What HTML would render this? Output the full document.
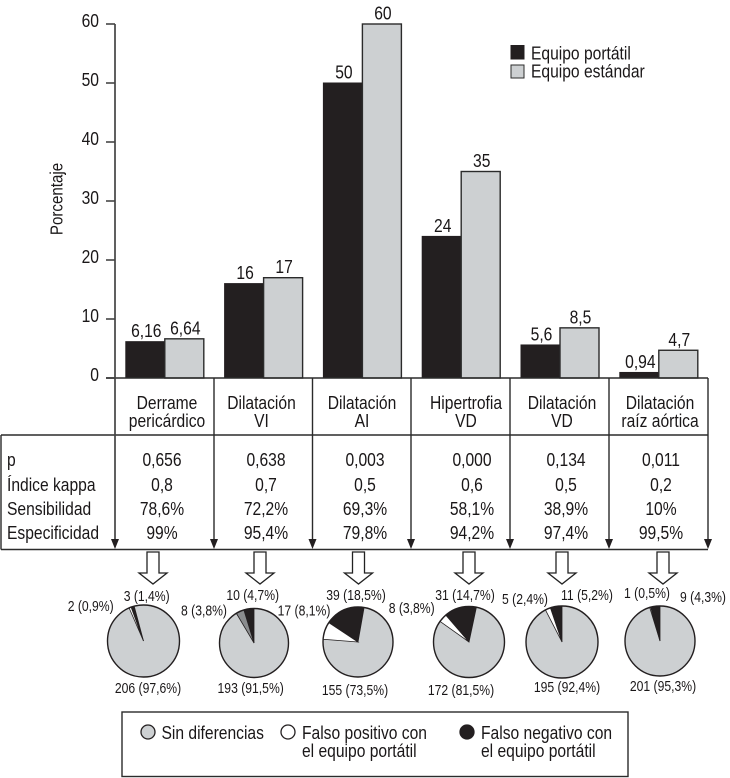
<!DOCTYPE html>
<html lang="es">
<head>
<meta charset="utf-8">
<title>Porcentaje por hallazgo ecocardiográfico</title>
<style>
html,body{margin:0;padding:0;background:#fff;width:730px;height:778px;overflow:hidden}
svg{display:block}
text{font-family:"Liberation Sans",sans-serif;font-size:18.5px;fill:#1a1718;text-anchor:middle}
text:not(.raw){transform-box:fill-box;transform-origin:50% 50%;transform:scaleX(.845)}
text.l{text-anchor:start;transform-origin:0 50%}
text.e{text-anchor:end;transform-origin:100% 50%}
text.s{font-size:14.5px}
text.s:not(.raw){transform:scaleX(.84)}
.ln{stroke:#2b2b2b;stroke-width:1.4;fill:none}
.ar{fill:#fff;stroke:#222;stroke-width:1.3}
.head{fill:#231f20;stroke:none}
</style>
</head>
<body>
<svg id="chart" xmlns="http://www.w3.org/2000/svg" width="730" height="778" viewBox="0 0 730 778">
  <text class="raw" style="font-size:18px" transform="translate(62.5,199) rotate(-90) scale(.84,1)">Porcentaje</text>

  <g id="ticks"></g>
  <g id="bars"></g>

  <g>
    <path class="ln" d="M106 378H708M1 435H708M1 435V549.5M1 549.5H708"/>
    <path class="ln" d="M115 24V545" style="stroke-width:1.7;stroke:#444"/>
    <path class="ln" d="M214 378V545M312.5 378V545M411 378V545M510 378V545M609 378V545M708 378V545"/>
    <g>
      <polygon class="head" points="111,539 119,539 115,549"/>
      <polygon class="head" points="210,539 218,539 214,549"/>
      <polygon class="head" points="308.5,539 316.5,539 312.5,549"/>
      <polygon class="head" points="407,539 415,539 411,549"/>
      <polygon class="head" points="506,539 514,539 510,549"/>
      <polygon class="head" points="605,539 613,539 609,549"/>
      <polygon class="head" points="704,539 712,539 708,549"/>
    </g>
  </g>

  <g id="headers"></g>

  <g>
    <g>
      <text class="l" x="7" y="466">p</text>
      <text class="l" x="7" y="491">Índice kappa</text>
      <text class="l" x="7" y="515">Sensibilidad</text>
      <text class="l" x="7" y="539">Especificidad</text>
    </g>
    <g>
      <text x="162" y="466">0,656</text>
      <text x="162" y="491">0,8</text>
      <text x="162" y="515">78,6%</text>
      <text x="162" y="539">99%</text>
    </g>
    <g>
      <text x="266" y="466">0,638</text>
      <text x="266" y="491">0,7</text>
      <text x="266" y="515">72,2%</text>
      <text x="266" y="539">95,4%</text>
    </g>
    <g>
      <text x="365" y="466">0,003</text>
      <text x="365" y="491">0,5</text>
      <text x="365" y="515">69,3%</text>
      <text x="365" y="539">79,8%</text>
    </g>
    <g>
      <text x="472" y="466">0,000</text>
      <text x="472" y="491">0,6</text>
      <text x="472" y="515">58,1%</text>
      <text x="472" y="539">94,2%</text>
    </g>
    <g>
      <text x="566" y="466">0,134</text>
      <text x="566" y="491">0,5</text>
      <text x="566" y="515">38,9%</text>
      <text x="566" y="539">97,4%</text>
    </g>
    <g>
      <text x="661" y="466">0,011</text>
      <text x="661" y="491">0,2</text>
      <text x="661" y="515">10%</text>
      <text x="661" y="539">99,5%</text>
    </g>
  </g>

  <g>
    <polygon class="ar" transform="translate(153,552)" points="-6,0 6,0 6,21 14,21 0,32 -14,21 -6,21"/>
    <polygon class="ar" transform="translate(260,552)" points="-6,0 6,0 6,21 14,21 0,32 -14,21 -6,21"/>
    <polygon class="ar" transform="translate(358.5,552)" points="-6,0 6,0 6,21 14,21 0,32 -14,21 -6,21"/>
    <polygon class="ar" transform="translate(469,552)" points="-6,0 6,0 6,21 14,21 0,32 -14,21 -6,21"/>
    <polygon class="ar" transform="translate(562,552)" points="-6,0 6,0 6,21 14,21 0,32 -14,21 -6,21"/>
    <polygon class="ar" transform="translate(663,552)" points="-6,0 6,0 6,21 14,21 0,32 -14,21 -6,21"/>
  </g>

  <g id="pies"></g>

  <g>
    <g>
      <rect x="511" y="45.5" width="13" height="13.5" fill="#231f20" stroke="#231f20"/>
      <text class="l" x="531" y="59.5">Equipo portátil</text>
    </g>
    <g>
      <rect x="511" y="65" width="13" height="13" fill="#cdd0d2" stroke="#2b2b2b"/>
      <text class="l" x="531" y="77.5">Equipo estándar</text>
    </g>
  </g>

  <g>
    <rect class="ln" x="122" y="712" width="506" height="64.5"/>
    <g>
      <circle cx="148" cy="732" r="7" fill="#cdd0d2" stroke="#231f20" stroke-width="1.3"/>
      <text class="l" x="161.5" y="739">Sin diferencias</text>
    </g>
    <g>
      <circle cx="288" cy="732" r="7" fill="#fff" stroke="#231f20" stroke-width="1.3"/>
      <text class="l" x="302" y="739">Falso positivo con</text>
      <text class="l" x="302" y="757">el equipo portátil</text>
    </g>
    <g>
      <circle cx="467" cy="732" r="7" fill="#231f20" stroke="#231f20" stroke-width="1.3"/>
      <text class="l" x="481" y="739">Falso negativo con</text>
      <text class="l" x="481" y="757">el equipo portátil</text>
    </g>
  </g>
</svg>

<script>
// ---------- chart data ----------
const categoryLine1 = ["Derrame", "Dilatación", "Dilatación", "Hipertrofia", "Dilatación", "Dilatación"];
const categoryLine2 = ["pericárdico", "VI", "AI", "VD", "VD", "raíz aórtica"];
const portableValues = [6.16, 16, 50, 24, 5.6, 0.94];
const standardValues = [6.64, 17, 60, 35, 8.5, 4.7];
const portableLabels = ["6,16", "16", "50", "24", "5,6", "0,94"];
const standardLabels = ["6,64", "17", "60", "35", "8,5", "4,7"];
const yTickValues = [0, 10, 20, 30, 40, 50, 60];
const yTickLabels = ["0", "10", "20", "30", "40", "50", "60"];

const pieAgreeCounts = [206, 193, 155, 172, 195, 201];
const pieNegativeCounts = [3, 10, 39, 31, 11, 9];
const piePositiveCounts = [2, 8, 17, 8, 5, 1];
const pieAgreeLabels = ["97,6", "91,5", "73,5", "81,5", "92,4", "95,3"];
const pieNegativeLabels = ["1,4", "4,7", "18,5", "14,7", "5,2", "4,3"];
const piePositiveLabels = ["0,9", "3,8", "8,1", "3,8", "2,4", "0,5"];

// ---------- layout (not data) ----------
const layoutPieCx = [143.5, 254, 358, 469, 562, 660];
const layoutPieCy = [641, 643, 642, 642, 642, 641];
const layoutPieR = [36, 34.5, 35, 35.5, 36, 35];
const layoutPieRotation = [-15, 0, 10, 12, 0, 0];
const layoutPosFill = ["#fff", "#8a8c8e", "#fff", "#fff", "#fff", "#fff"];
const layoutNegLabelX = [146.7, 252.7, 356, 465, 587, 703];
const layoutNegLabelY = [601, 600, 600, 600, 600, 602];
const layoutPosLabelX = [90.7, 204, 304, 411.7, 525, 647];
const layoutPosLabelY = [611, 615.7, 615.7, 613, 604, 598];
const layoutAgreeLabelX = [148, 250.7, 355, 461, 567, 663];
const layoutAgreeLabelY = [693, 693, 695, 695, 692, 691];
const layoutHeaderX = [167, 261.5, 362, 466, 562, 660];

const NS = "http://www.w3.org/2000/svg";
const yScale = v => 378 - v * 5.9;
const groupX = i => 115 + 98.8 * i + 10.8;
const barW = 39;

function mk(tag, parent, attrs, txt) {
  const el = document.createElementNS(NS, tag);
  for (const k in attrs) el.setAttribute(k, attrs[k]);
  if (txt !== undefined) el.textContent = txt;
  parent.appendChild(el);
  return el;
}

// y-axis ticks
const ticksG = document.getElementById("ticks");
yTickValues.forEach((v, i) => {
  const tick = mk("line", ticksG, {x1: 106, x2: 115, y1: yScale(v), y2: yScale(v), class: "ln"});
  
  
  const lab = mk("text", ticksG, {x: 99, y: yScale(v) + 3, class: "e"}, yTickLabels[i]);
  
  
});

// bars
const barsG = document.getElementById("bars");
portableValues.forEach((v, i) => {
  const x = groupX(i);
  const a = mk("rect", barsG, {x: x, y: yScale(v), width: barW, height: yScale(0) - yScale(v), fill: "#231f20", stroke: "#231f20", "stroke-width": 1});
  
  
  const w = standardValues[i];
  const b = mk("rect", barsG, {x: x + barW, y: yScale(w), width: barW, height: yScale(0) - yScale(w), fill: "#cdd0d2", stroke: "#2b2b2b", "stroke-width": 1.4});
  
  
  const la = mk("text", barsG, {x: x + barW / 2 + 1, y: yScale(v) - 4.5}, portableLabels[i]);
  
  
  const lb = mk("text", barsG, {x: x + barW * 1.5 + 1, y: yScale(w) - 4.5}, standardLabels[i]);
  
  
});

// category headers
const headersG = document.getElementById("headers");
categoryLine1.forEach((c, i) => {
  const t1 = mk("text", headersG, {x: layoutHeaderX[i], y: 409}, c);
  
  
  const t2 = mk("text", headersG, {x: layoutHeaderX[i], y: 427}, categoryLine2[i]);
  
  
});

// pies
const piesG = document.getElementById("pies");
function pt(cx, cy, r, deg) {
  const a = deg * Math.PI / 180;
  return [cx + r * Math.sin(a), cy - r * Math.cos(a)];
}
function wedge(cx, cy, r, from, to) {
  // sweeps counter-clockwise from "from" to "to" (degrees clockwise from 12 o'clock)
  const p0 = pt(cx, cy, r, from), p1 = pt(cx, cy, r, to);
  const large = Math.abs(from - to) > 180 ? 1 : 0;
  return "M" + cx + " " + cy + "L" + p0[0].toFixed(2) + " " + p0[1].toFixed(2) +
    "A" + r + " " + r + " 0 " + large + " 0 " + p1[0].toFixed(2) + " " + p1[1].toFixed(2) + "Z";
}
pieAgreeCounts.forEach((agree, i) => {
  const neg = pieNegativeCounts[i], pos = piePositiveCounts[i];
  const total = agree + neg + pos;
  const cx = layoutPieCx[i], cy = layoutPieCy[i], r = layoutPieR[i];
  const g = mk("g", piesG, {});
  
  
  const base = mk("circle", g, {cx: cx, cy: cy, r: r, fill: "#cdd0d2"});
  
  
  const start = layoutPieRotation[i];
  const aNeg = start - neg / total * 360;
  const aPos = aNeg - pos / total * 360;
  const sn = mk("path", g, {d: wedge(cx, cy, r, start, aNeg), fill: "#231f20", stroke: "#231f20", "stroke-width": .8});
  
  
  const sp = mk("path", g, {d: wedge(cx, cy, r, aNeg, aPos), fill: layoutPosFill[i], stroke: "#231f20", "stroke-width": .8});
  
  
  const ring = mk("circle", g, {cx: cx, cy: cy, r: r, fill: "none", stroke: "#231f20", "stroke-width": 1.4});
  
  
  const ln = mk("text", g, {x: layoutNegLabelX[i], y: layoutNegLabelY[i], class: "s"}, neg + " (" + pieNegativeLabels[i] + "%)");
  
  
  const lp = mk("text", g, {x: layoutPosLabelX[i], y: layoutPosLabelY[i], class: "s"}, pos + " (" + piePositiveLabels[i] + "%)");
  
  
  const la = mk("text", g, {x: layoutAgreeLabelX[i], y: layoutAgreeLabelY[i], class: "s"}, agree + " (" + pieAgreeLabels[i] + "%)");
  
  
});
</script>
</body>
</html>
